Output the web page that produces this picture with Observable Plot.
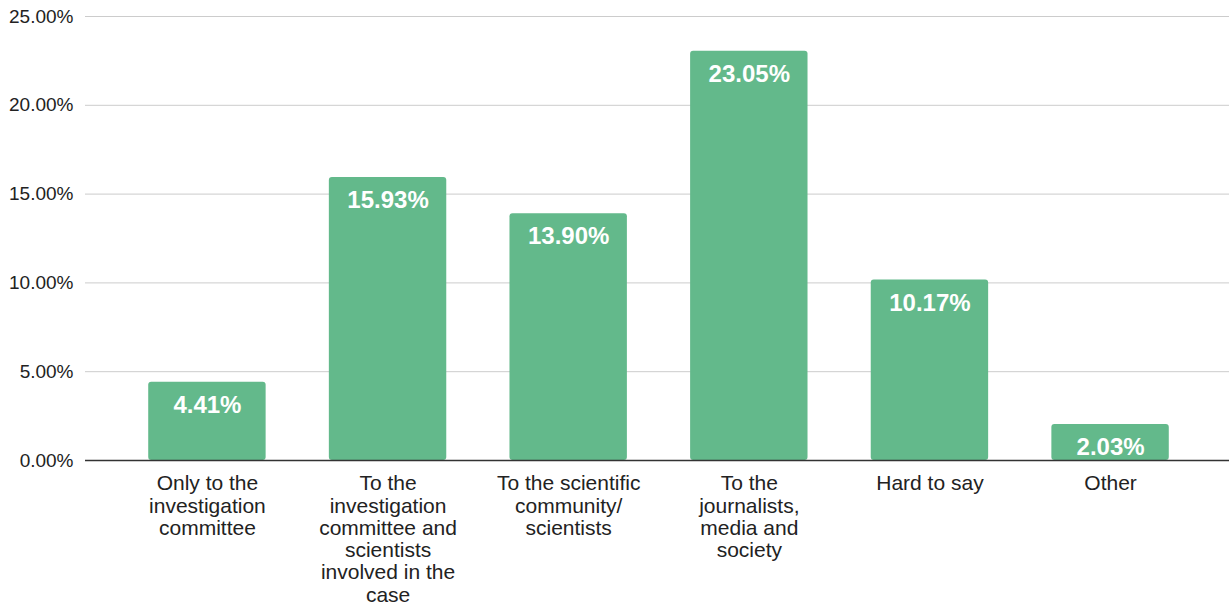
<!DOCTYPE html>
<html>
<head>
<meta charset="utf-8">
<script src="https://cdn.jsdelivr.net/npm/d3@7"></script>
<script src="https://cdn.jsdelivr.net/npm/@observablehq/plot@0.6"></script>
<style>
  html, body { margin: 0; padding: 0; background: #fff; }
  #chart { width: 1229px; height: 605px; }
</style>
</head>
<body>
<div id="chart"></div>
<script>
const categories = [
  "Only to the investigation committee",
  "To the investigation committee and scientists involved in the case",
  "To the scientific community/ scientists",
  "To the journalists, media and society",
  "Hard to say",
  "Other"
];
const tickLabels = [
  "Only to the\ninvestigation\ncommittee",
  "To the\ninvestigation\ncommittee and\nscientists\ninvolved in the\ncase",
  "To the scientific\ncommunity/\nscientists",
  "To the\njournalists,\nmedia and\nsociety",
  "Hard to say",
  "Other"
];
const values = [4.41, 15.93, 13.90, 23.05, 10.17, 2.03];
const yTicks = [0, 5, 10, 15, 20, 25];

const data = categories.map((c, i) => ({category: c, value: values[i], label: tickLabels[i]}));
const labelOf = new Map(categories.map((c, i) => [c, tickLabels[i]]));
const pct = d3.format(".2f");

const chart = Plot.plot({
  width: 1229,
  height: 605,
  marginTop: 16,
  marginBottom: 145,
  marginLeft: 85,
  marginRight: 0,
  style: {fontFamily: "'Liberation Sans', Arial, sans-serif", color: "#222", background: "#fff"},
  x: {domain: categories, range: [85, 1232], round: false, paddingInner: 0.35, paddingOuter: 0.35, label: null},
  y: {domain: [0, 25], ticks: yTicks, label: null},
  marks: [
    Plot.gridY(yTicks, {stroke: "#cccccc", strokeOpacity: 1, strokeWidth: 1}),
    Plot.axisY(yTicks, {tickSize: 0, tickPadding: 12, fontSize: 19, tickFormat: d => pct(d) + "%", fill: "#222", label: null}),
    Plot.barY(data, {x: "category", y: "value", fill: "#63b98b", rx: 3}),
    Plot.ruleY([0], {stroke: "#333", strokeWidth: 1.3}),
    Plot.text(data, {x: "category", y: "value", text: d => pct(d.value) + "%", dy: 23, fill: "#fff", fontWeight: "bold", fontSize: 24, lineAnchor: "middle"}),
    Plot.axisX({tickSize: 0, tickPadding: 14, fontSize: 21, lineHeight: 1.06, tickFormat: d => labelOf.get(d), fill: "#222", label: null})
  ]
});
document.getElementById("chart").appendChild(chart);
</script>
</body>
</html>
